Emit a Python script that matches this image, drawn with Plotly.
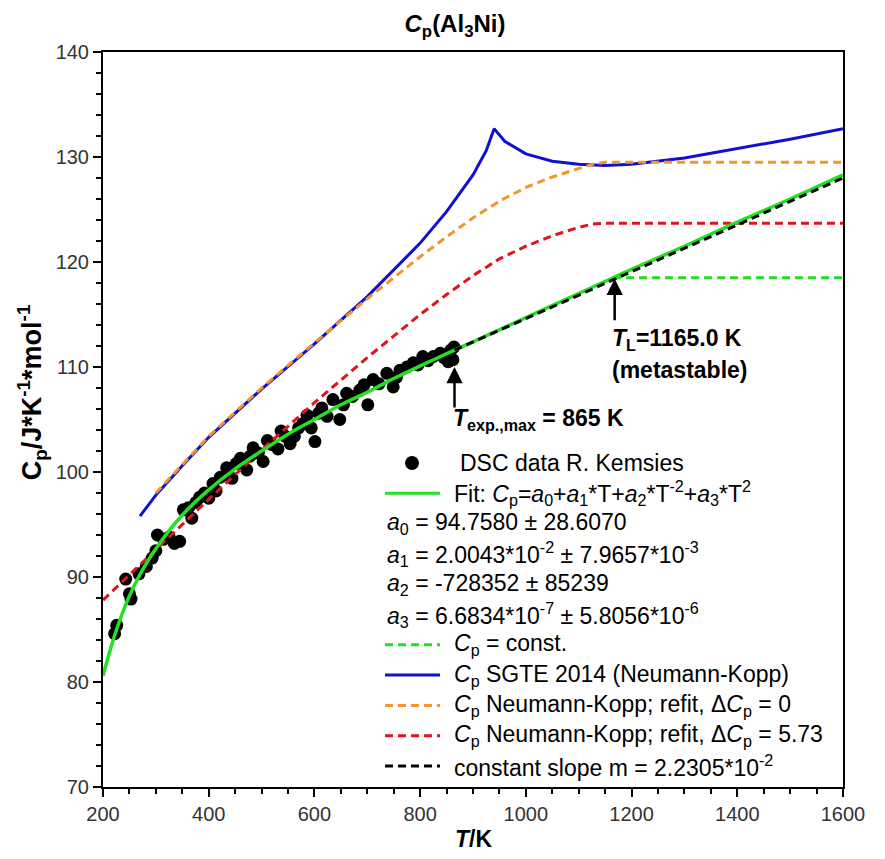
import plotly.graph_objects as go

# ---------------- data ----------------
dsc_T = [222, 226, 243, 250, 253, 268, 282, 293, 300, 303, 315, 325, 335, 345, 352, 362, 368, 376,
         383, 392, 400, 408, 414, 422, 434, 444, 452, 460, 472, 478, 484, 494, 503, 511, 520, 531,
         537, 545, 554, 562, 570, 578, 586, 594, 601, 608, 614, 624, 635, 648, 655, 661, 672, 686,
         694, 701, 711, 722, 737, 749, 755, 762, 775, 787, 796, 805, 815, 825, 838, 845, 853, 858,
         862, 864]
dsc_cp = [84.6, 85.4, 89.8, 88.4, 87.9, 90.3, 91.0, 91.8, 92.5, 94.0, 93.6, 93.8, 93.2, 93.4, 96.4,
          96.6, 95.6, 97.1, 97.6, 98.0, 97.5, 98.9, 98.2, 99.5, 100.4, 99.4, 100.8, 101.3, 100.2,
          101.5, 102.3, 101.8, 101.0, 103.0, 102.6, 102.2, 103.9, 103.4, 102.7, 103.4, 104.2, 104.6,
          105.4, 104.2, 102.9, 105.6, 106.1, 105.3, 106.9, 105.0, 106.4, 107.5, 107.2, 107.8, 108.3,
          106.4, 108.8, 108.4, 109.4, 108.1, 109.0, 109.7, 110.0, 110.4, 110.2, 111.0, 110.6, 111.0,
          111.3, 110.9, 110.5, 111.6, 110.7, 111.9]

fit_T = [200, 225, 250, 275, 300, 350, 400, 450, 500, 550, 600, 650, 700, 750, 800, 865, 900,
         1000, 1100, 1165, 1200, 1300, 1400, 1500, 1600]
fit_cp = [80.6, 84.9, 88.2, 90.7, 92.7, 95.9, 98.3, 100.3, 102.0, 103.6, 105.0, 106.4, 107.6,
          108.9, 110.1, 111.6, 112.4, 114.7, 117.0, 118.5, 119.3, 121.5, 123.8, 126.0, 128.3]

const_T = [1165, 1600]
const_cp = [118.5, 118.5]

sgte_T = [270, 300, 350, 400, 500, 600, 700, 800, 850, 900, 925, 940, 960, 1000, 1050, 1100,
          1150, 1200, 1300, 1400, 1500, 1600]
sgte_cp = [95.8, 97.8, 100.6, 103.3, 107.9, 112.2, 116.7, 121.8, 124.8, 128.3, 130.6, 132.7,
           131.5, 130.3, 129.6, 129.3, 129.2, 129.3, 129.9, 130.8, 131.7, 132.7]

nk0_T = [300, 350, 400, 500, 600, 700, 800, 850, 900, 950, 1000, 1050, 1100, 1125, 1150, 1600]
nk0_cp = [98.0, 100.7, 103.4, 108.0, 112.3, 116.5, 120.5, 122.4, 124.2, 125.8, 127.1, 128.1,
          128.9, 129.3, 129.5, 129.5]

nk573_T = [200, 300, 400, 500, 600, 700, 800, 850, 900, 950, 1000, 1050, 1100, 1125, 1150, 1600]
nk573_cp = [87.8, 92.6, 97.4, 102.1, 106.6, 110.9, 115.0, 116.9, 118.7, 120.3, 121.5, 122.5,
            123.3, 123.6, 123.7, 123.7]

slope_T = [865, 1600]
slope_cp = [111.6, 128.0]

x_ticks = [200, 400, 600, 800, 1000, 1200, 1400, 1600]
y_ticks = [70, 80, 90, 100, 110, 120, 130, 140]

# ---------------- figure ----------------
fig = go.Figure()
dash = "8px,5px"
fig.add_trace(go.Scatter(x=dsc_T, y=dsc_cp, mode="markers",
                         marker=dict(color="black", size=13), showlegend=False))
fig.add_trace(go.Scatter(x=sgte_T, y=sgte_cp, mode="lines",
                         line=dict(color="#1010d0", width=3), showlegend=False))
fig.add_trace(go.Scatter(x=nk0_T, y=nk0_cp, mode="lines",
                         line=dict(color="#f0962a", width=3, dash=dash), showlegend=False))
fig.add_trace(go.Scatter(x=nk573_T, y=nk573_cp, mode="lines",
                         line=dict(color="#e0141e", width=3, dash=dash), showlegend=False))
fig.add_trace(go.Scatter(x=const_T, y=const_cp, mode="lines",
                         line=dict(color="#22dd22", width=3, dash=dash), showlegend=False))
fig.add_trace(go.Scatter(x=fit_T, y=fit_cp, mode="lines", line_shape="spline",
                         line=dict(color="#22e022", width=3.5), showlegend=False))
fig.add_trace(go.Scatter(x=slope_T, y=slope_cp, mode="lines",
                         line=dict(color="black", width=3, dash=dash), showlegend=False))

# ---------------- legend (manual) ----------------
# page coordinates of the plot area (the page has an 8px body margin)
L, T0, H, W = 103, 52, 735, 740
def px(xp):
    return (xp - L) / W
def py(yp):
    return (T0 + H - yp) / H

rows_y = [463 + i * 30.3 for i in range(11)]
legend_font = dict(family="Liberation Sans, Arial", size=23, color="black")
it = lambda s: "<i>" + s + "</i>"
texts = [
    (458, "DSC data R. Kemsies"),
    (452, "Fit: " + it("C") + "<sub>p</sub>=" + it("a") + "<sub>0</sub>+" + it("a") + "<sub>1</sub>*T+"
     + it("a") + "<sub>2</sub>*T<sup>-2</sup>+" + it("a") + "<sub>3</sub>*T<sup>2</sup>"),
    (385, it("a") + "<sub>0</sub> = 94.7580 ± 28.6070"),
    (385, it("a") + "<sub>1</sub> = 2.0043*10<sup>-2</sup> ± 7.9657*10<sup>-3</sup>"),
    (385, it("a") + "<sub>2</sub> = -728352 ± 85239"),
    (385, it("a") + "<sub>3</sub> = 6.6834*10<sup>-7</sup> ± 5.8056*10<sup>-6</sup>"),
    (452, it("C") + "<sub>p</sub> = const."),
    (452, it("C") + "<sub>p</sub> SGTE 2014 (Neumann-Kopp)"),
    (452, it("C") + "<sub>p</sub> Neumann-Kopp; refit, Δ" + it("C") + "<sub>p</sub> = 0"),
    (452, it("C") + "<sub>p</sub> Neumann-Kopp; refit, Δ" + it("C") + "<sub>p</sub> = 5.73"),
    (452, "constant slope m = 2.2305*10<sup>-2</sup>"),
]
annotations = []
for (xp, t), yp in zip(texts, rows_y):
    annotations.append(dict(xref="paper", yref="paper", x=px(xp), y=py(yp), text=t,
                            showarrow=False, xanchor="left", yanchor="middle", font=legend_font))

shapes = []
shapes.append(dict(type="circle", xref="paper", yref="paper",
                   x0=px(412 - 7), x1=px(412 + 7), y0=py(rows_y[0] + 7), y1=py(rows_y[0] - 7),
                   fillcolor="black", line=dict(color="black", width=0)))
samples = {1: ("#22e022", "solid"), 6: ("#22dd22", dash), 7: ("#1010d0", "solid"),
           8: ("#f0962a", dash), 9: ("#e0141e", dash), 10: ("black", dash)}
for i, (c, d) in samples.items():
    shapes.append(dict(type="line", xref="paper", yref="paper", x0=px(385), x1=px(440),
                       y0=py(rows_y[i]), y1=py(rows_y[i]), line=dict(color=c, width=3, dash=d)))

# arrows and labels
bold_font = dict(family="Liberation Sans, Arial", size=23, color="black")
annotations.append(dict(x=865, y=110.0, ax=865, ay=106.0, xref="x", yref="y", axref="x", ayref="y",
                        text="", showarrow=True, arrowhead=2, arrowsize=1.3, arrowwidth=2.5,
                        arrowcolor="black"))
annotations.append(dict(x=1168, y=118.4, ax=1168, ay=114.3, xref="x", yref="y", axref="x", ayref="y",
                        text="", showarrow=True, arrowhead=2, arrowsize=1.3, arrowwidth=2.5,
                        arrowcolor="black"))
annotations.append(dict(x=858, y=105.0, xref="x", yref="y", showarrow=False, xanchor="left",
                        yanchor="middle", font=bold_font,
                        text="<b><i>T</i><sub>exp.,max</sub> = 865 K</b>"))
annotations.append(dict(x=1160, y=112.6, xref="x", yref="y", showarrow=False, xanchor="left",
                        yanchor="middle", font=bold_font,
                        text="<b><i>T</i><sub>L</sub>=1165.0 K</b>"))
annotations.append(dict(x=1160, y=109.7, xref="x", yref="y", showarrow=False, xanchor="left",
                        yanchor="middle", font=bold_font, text="<b>(metastable)</b>"))

# axis titles
annotations.append(dict(xref="paper", yref="paper", x=0.5, y=py(839), showarrow=False,
                        xanchor="center", yanchor="middle", font=bold_font,
                        text="<b><i>T</i>/K</b>"))
annotations.append(dict(xref="paper", yref="paper", x=px(32), y=0.537, showarrow=False,
                        xanchor="center", yanchor="middle", textangle=-90,
                        font=dict(family="Liberation Sans, Arial", size=27, color="black"),
                        text="<b>C<sub>p</sub>/J*K<sup>-1</sup>*mol<sup>-1</sup></b>"))

tick_font = dict(family="Liberation Sans, Arial", size=20, color="#333333")
axis_common = dict(showgrid=False, zeroline=False, showline=True, linecolor="black", linewidth=2,
                   mirror=True, ticks="outside", ticklen=8, tickwidth=2, tickcolor="black",
                   tickfont=tick_font)
FW, FH = 877, 851  # figure size; page adds 8px body margin
fig.update_layout(
    width=FW, height=FH,
    margin=dict(l=L - 8, r=FW - (L - 8) - W, t=T0 - 8, b=FH - (T0 - 8) - H),
    plot_bgcolor="white", paper_bgcolor="white",
    title=dict(text="<b><i>C</i><sub>p</sub>(Al<sub>3</sub>Ni)</b>", x=447 / FW, xref="container",
               xanchor="center", y=1 - 16 / FH, yanchor="middle",
               font=dict(family="Liberation Sans, Arial", size=24, color="black")),
    xaxis=dict(range=[200, 1600], tickvals=x_ticks, ticktext=[str(v) for v in x_ticks],
               minor=dict(dtick=50, ticks="outside", ticklen=5, tickwidth=2, tickcolor="black"),
               **axis_common),
    yaxis=dict(range=[70, 140], tickvals=y_ticks, ticktext=[str(v) for v in y_ticks],
               minor=dict(dtick=2, ticks="outside", ticklen=5, tickwidth=2, tickcolor="black"),
               **axis_common),
    annotations=annotations, shapes=shapes, showlegend=False,
)
fig.write_html("out.html")
